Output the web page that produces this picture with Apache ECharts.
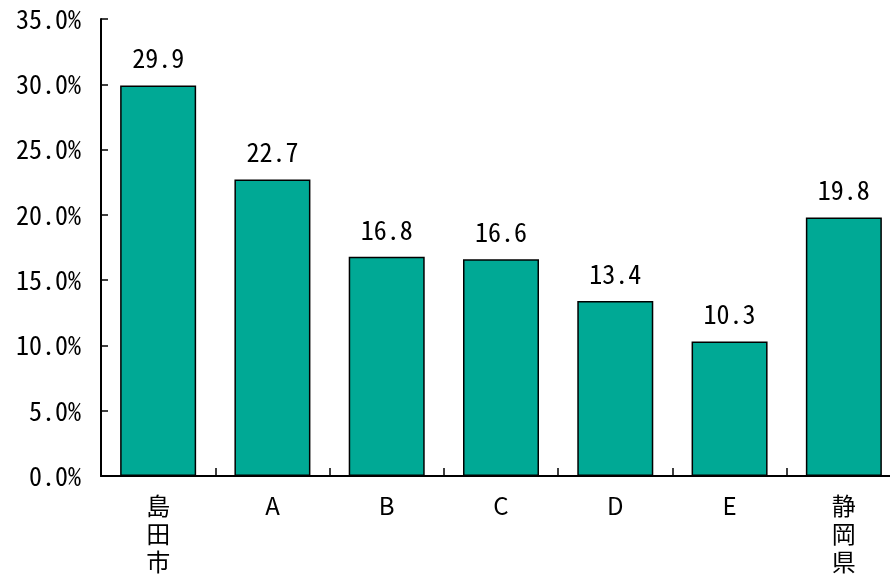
<!DOCTYPE html>
<html>
<head>
<meta charset="utf-8">
<script src="https://cdn.jsdelivr.net/npm/echarts@6/dist/echarts.min.js"></script>
<style>
  html, body { margin: 0; padding: 0; background: #fff; }
  #chart { width: 890px; height: 576px; }
</style>
</head>
<body>
<div id="chart"></div>
<script>
// Categories along the x axis and their percentage values
const categories = ['島田市', 'A', 'B', 'C', 'D', 'E', '静岡県'];
const values = [29.9, 22.7, 16.8, 16.6, 13.4, 10.3, 19.8];
const yTicks = { min: 0, max: 35, interval: 5 };

const numFont = '"Noto Sans Mono CJK JP", "DejaVu Sans Mono", monospace';
const catFont = '"Noto Sans CJK JP", "Noto Sans", sans-serif';

const chart = echarts.init(document.getElementById('chart'), null, { renderer: 'canvas' });

chart.setOption({
  animation: false,
  backgroundColor: '#ffffff',
  grid: { left: 101, top: 19, bottom: 100, width: 800, containLabel: false, outerBoundsMode: 'none' },
  xAxis: {
    type: 'category',
    data: categories,
    axisLine: { show: true, lineStyle: { color: '#000', width: 2 } },
    axisTick: { show: true, inside: true, length: 8, alignWithLabel: false, lineStyle: { color: '#000', width: 1.5 } },
    axisLabel: {
      interval: 0,
      margin: 16,
      color: '#000',
      fontSize: 24,
      fontFamily: catFont,
      lineHeight: 28,
      formatter: function (v) { return v.length > 1 ? v.split('').join('\n') : v; }
    }
  },
  yAxis: {
    type: 'value',
    min: yTicks.min,
    max: yTicks.max,
    interval: yTicks.interval,
    splitLine: { show: false },
    axisLine: { show: true, lineStyle: { color: '#000', width: 2 } },
    axisTick: { show: true, inside: true, length: 7, lineStyle: { color: '#000', width: 1.5 } },
    axisLabel: {
      margin: 20,
      color: '#000',
      fontSize: 26,
      fontFamily: numFont,
      formatter: function (v) { return v.toFixed(1) + '%'; }
    }
  },
  series: [{
    type: 'bar',
    data: values,
    barWidth: 76,
    itemStyle: { color: '#00a995', borderColor: '#000', borderWidth: 1.5 },
    label: {
      show: true,
      position: 'top',
      distance: 14,
      color: '#000',
      fontSize: 26,
      fontFamily: numFont,
      formatter: function (p) { return p.value.toFixed(1); }
    }
  }]
});
</script>
</body>
</html>
